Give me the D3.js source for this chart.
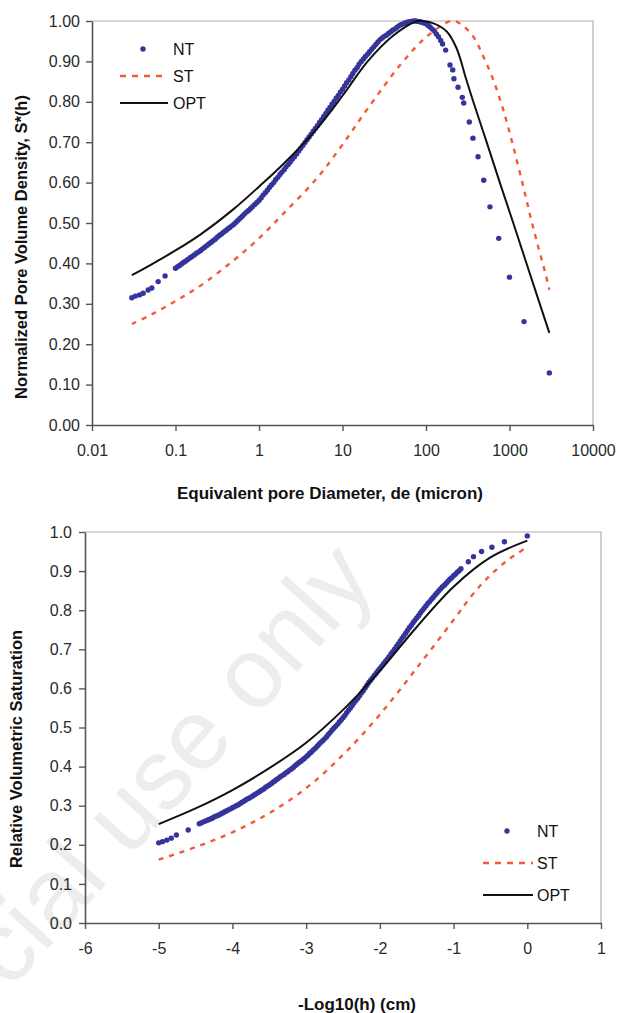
<!DOCTYPE html>
<html>
<head>
<meta charset="utf-8">
<script src="https://cdn.jsdelivr.net/npm/d3@7"></script>
<style>
  body { margin: 0; background: #fff; }
  svg { display: block; font-family: 'Liberation Sans', Arial, sans-serif; }
</style>
</head>
<body>
<div id="mount"></div>
<script>
'use strict';

const seriesNames = ['NT', 'ST', 'OPT'];

// upper chart: equivalent pore diameter (micron) -> normalized pore volume density
const poreTicksX = [0.01, 0.1, 1, 10, 100, 1000, 10000];
const poreTicksY = [0, 0.1, 0.2, 0.3, 0.4, 0.5, 0.6, 0.7, 0.8, 0.9, 1.0];

const poreNT = [
  [0.030,.315],[0.033,.319],[0.037,.322],[0.041,.326],[0.047,.334],[0.052,.339],[0.062,.355],[0.075,.369],
  [0.100,.388],[0.106,.392],[0.112,.395],[0.119,.399],[0.126,.403],[0.133,.406],[0.141,.410],[0.150,.414],
  [0.158,.417],[0.168,.421],[0.178,.425],[0.188,.428],[0.200,.432],[0.211,.436],[0.224,.440],[0.237,.444],
  [0.251,.448],[0.266,.452],[0.282,.456],[0.299,.460],[0.316,.465],[0.335,.469],[0.355,.473],[0.376,.477],
  [0.398,.481],[0.422,.485],[0.447,.489],[0.473,.493],[0.501,.497],[0.531,.502],[0.562,.507],[0.596,.512],
  [0.631,.517],[0.668,.522],[0.708,.527],[0.750,.531],[0.794,.536],[0.841,.541],[0.891,.546],[0.944,.551],
  [1.00,.556],[1.06,.562],[1.12,.569],[1.19,.575],[1.26,.581],[1.33,.588],[1.41,.594],[1.50,.600],
  [1.58,.607],[1.68,.613],[1.78,.620],[1.88,.626],[2.00,.632],[2.11,.639],[2.24,.645],[2.37,.651],
  [2.51,.658],[2.66,.664],[2.82,.671],[2.99,.678],[3.16,.685],[3.35,.692],[3.55,.699],[3.76,.706],
  [3.98,.713],[4.22,.720],[4.47,.727],[4.73,.734],[5.01,.741],[5.31,.749],[5.62,.756],[5.96,.764],
  [6.31,.771],[6.68,.779],[7.08,.786],[7.50,.794],[7.94,.801],[8.41,.809],[8.91,.816],[9.44,.824],
  [10.0,.831],[10.6,.839],[11.2,.847],[11.9,.854],[12.6,.862],[13.3,.870],[14.1,.878],[15.0,.885],
  [15.8,.893],[16.8,.900],[17.8,.906],[18.8,.912],[20.0,.918],[21.1,.924],[22.4,.930],[23.7,.936],
  [25.1,.942],[26.6,.948],[28.2,.954],[29.9,.958],[31.6,.962],[33.5,.965],[35.5,.969],[37.6,.973],
  [39.8,.977],[42.2,.980],[44.7,.984],[47.3,.988],[50.1,.991],[53.1,.993],[56.2,.995],[59.6,.997],
  [63.1,.998],[66.8,.999],[70.8,1.000],[75.0,1.000],[79.4,.999],[84.1,.998],[89.1,.997],[94.4,.995],
  [100,.993],[106,.989],[112,.985],[119,.980],[126,.975],[133,.968],[141,.961],[150,.952],[158,.943],
  [172,.928],[194,.891],[209,.879],[216,.857],[242,.836],[272,.811],[283,.797],[330,.750],
  [365,.710],[420,.664],[491,.606],[584,.540],[743,.462],[1000,.366],[1493,.256],[3000,.129]
];

const poreST = [
  [0.03,.250],[0.05,.272],[0.1,.307],[0.2,.345],[0.5,.408],[1,.462],[2,.525],[5,.612],
  [10,.694],[20,.783],[50,.893],[100,.960],[200,1.000],[255,.994],[369,.961],[486,.912],
  [640,.854],[843,.780],[1110,.689],[1463,.590],[1762,.520],[2118,.455],[2663,.379],[3000,.335]
];

const poreOPT = [
  [0.03,.371],[0.05,.396],[0.1,.432],[0.2,.472],[0.5,.535],[1,.590],[2,.648],[5,.735],
  [10,.815],[20,.900],[40,.963],[80,1.000],[123,.994],[177,.974],[233,.932],[300,.859],
  [366,.802],[529,.702],[766,.600],[1110,.500],[1592,.401],[3000,.228]
];

// lower chart: -log10(h) (cm) -> relative volumetric saturation
const satTicksX = [-6, -5, -4, -3, -2, -1, 0, 1];
const satTicksY = [0, 0.1, 0.2, 0.3, 0.4, 0.5, 0.6, 0.7, 0.8, 0.9, 1.0];

const satNT = [
  [-5.00,.205],[-4.95,.208],[-4.89,.212],[-4.83,.217],[-4.76,.225],[-4.60,.238],
  [-4.450,.254],[-4.425,.256],[-4.400,.258],[-4.375,.260],[-4.350,.262],[-4.325,.264],[-4.300,.266],[-4.275,.268],
  [-4.250,.271],[-4.225,.273],[-4.200,.275],[-4.175,.277],[-4.150,.280],[-4.125,.282],[-4.100,.285],[-4.075,.287],
  [-4.050,.290],[-4.025,.292],[-4.000,.295],[-3.975,.297],[-3.950,.300],[-3.925,.302],[-3.900,.305],[-3.875,.308],
  [-3.850,.311],[-3.825,.314],[-3.800,.317],[-3.775,.319],[-3.750,.322],[-3.725,.325],[-3.700,.328],[-3.675,.331],
  [-3.650,.334],[-3.625,.337],[-3.600,.340],[-3.575,.343],[-3.550,.347],[-3.525,.350],[-3.500,.353],[-3.475,.356],
  [-3.450,.360],[-3.425,.363],[-3.400,.367],[-3.375,.370],[-3.350,.374],[-3.325,.377],[-3.300,.380],[-3.275,.384],
  [-3.250,.387],[-3.225,.391],[-3.200,.394],[-3.175,.398],[-3.150,.402],[-3.125,.406],[-3.100,.410],[-3.075,.413],
  [-3.050,.417],[-3.025,.421],[-3.000,.425],[-2.975,.429],[-2.950,.434],[-2.925,.438],[-2.900,.443],[-2.875,.447],
  [-2.850,.452],[-2.825,.457],[-2.800,.462],[-2.775,.466],[-2.750,.471],[-2.725,.476],[-2.700,.482],[-2.675,.487],
  [-2.650,.493],[-2.625,.498],[-2.600,.503],[-2.575,.508],[-2.550,.514],[-2.525,.519],[-2.500,.525],[-2.475,.531],
  [-2.450,.538],[-2.425,.544],[-2.400,.550],[-2.375,.556],[-2.350,.563],[-2.325,.569],[-2.300,.575],[-2.275,.581],
  [-2.250,.588],[-2.225,.594],[-2.200,.601],[-2.175,.608],[-2.150,.615],[-2.125,.621],[-2.100,.627],[-2.075,.633],
  [-2.050,.639],[-2.025,.645],[-2.000,.651],[-1.975,.657],[-1.950,.663],[-1.925,.669],[-1.900,.675],[-1.875,.681],
  [-1.850,.688],[-1.825,.694],[-1.800,.700],[-1.775,.707],[-1.750,.714],[-1.725,.721],[-1.700,.728],[-1.675,.734],
  [-1.650,.741],[-1.625,.748],[-1.600,.755],[-1.575,.761],[-1.550,.768],[-1.525,.774],[-1.500,.780],[-1.475,.786],
  [-1.450,.793],[-1.425,.799],[-1.400,.805],[-1.375,.811],[-1.350,.817],[-1.325,.822],[-1.300,.828],[-1.275,.833],
  [-1.250,.839],[-1.225,.844],[-1.200,.850],[-1.175,.855],[-1.150,.860],[-1.125,.864],[-1.100,.869],[-1.075,.874],
  [-1.050,.879],[-1.025,.883],[-1.000,.888],[-0.975,.892],[-0.950,.897],[-0.925,.901],[-0.900,.906],
  [-0.80,.924],[-0.73,.937],[-0.62,.950],[-0.48,.961],[-0.31,.975],[0.00,.990]
];

const satST = [
  [-5.0,.162],[-4.5,.194],[-4.0,.232],[-3.5,.281],[-3.0,.345],[-2.5,.430],[-2.0,.533],
  [-1.5,.652],[-1.0,.775],[-0.75,.838],[-0.5,.890],[-0.25,.930],[0.0,.962]
];

const satOPT = [
  [-5.0,.253],[-4.5,.293],[-4.0,.340],[-3.5,.396],[-3.0,.461],[-2.5,.545],
  [-2.0,.645],[-1.5,.757],[-1.0,.860],[-0.5,.935],[0.0,.978]
];

const colors = { NT: '#34349a', ST: '#f25a38', OPT: '#111111' };

const svg = d3.select('#mount').append('svg')
    .attr('width', 618)
    .attr('height', 1013);

// faint diagonal watermark behind everything
svg.append('text')
    .attr('transform', 'translate(378,582) rotate(-48)')
    .attr('text-anchor', 'end')
    .style('font-size', '100px')
    .style('fill', '#ededed')
    .text('cial use only');

function drawPanel(p) {
  const x = p.x, y = p.y;
  const [left, right] = x.range();
  const [bottom, top] = y.range();

  // light frame on top and right, like the Excel plot area
  svg.append('path')
      .attr('d', `M${left},${top}H${right}V${bottom}`)
      .attr('fill', 'none')
      .attr('stroke', '#b5aba8')
      .attr('stroke-width', 1.2);

  const gx = svg.append('g')
      .attr('transform', `translate(0,${bottom})`)
      .call(d3.axisBottom(x).tickValues(p.ticksX).tickFormat(p.fmtX)
        .tickSize(6).tickSizeOuter(0).tickPadding(14));

  const gy = svg.append('g')
      .attr('transform', `translate(${left},0)`)
      .call(d3.axisLeft(y).tickValues(p.ticksY).tickFormat(p.fmtY)
        .tickSize(6).tickSizeOuter(0).tickPadding(p.padY));

  [gx, gy].forEach(g => {
    g.attr('font-family', null).attr('font-size', 16);
    g.select('.domain').attr('stroke', '#555').attr('stroke-width', 1.6);
    g.selectAll('.tick line').attr('stroke', '#555').attr('stroke-width', 1.4);
    g.selectAll('.tick text').attr('fill', '#2a2a2a');
  });

  const line = d3.line()
      .x(d => x(d[0]))
      .y(d => y(d[1]))
      .curve(d3.curveCatmullRom);

  svg.append('g').selectAll('circle')
      .data(p.nt)
    .join('circle')
      .attr('cx', d => x(d[0]))
      .attr('cy', d => y(d[1]))
      .attr('r', 2.7)
      .attr('fill', colors.NT);

  svg.append('path')
      .datum(p.st)
      .attr('d', line)
      .attr('fill', 'none')
      .attr('stroke', colors.ST)
      .attr('stroke-width', 2.4)
      .attr('stroke-dasharray', '5,6');

  svg.append('path')
      .datum(p.opt)
      .attr('d', line)
      .attr('fill', 'none')
      .attr('stroke', colors.OPT)
      .attr('stroke-width', 2);

  // axis titles
  svg.append('text')
      .attr('x', p.xTitle[0])
      .attr('y', p.xTitle[1])
      .attr('text-anchor', 'middle')
      .style('font-size', '17px')
      .style('font-weight', 'bold')
      .style('fill', '#111')
      .text(p.xLabel);

  svg.append('text')
      .attr('transform', `translate(${p.yTitle[0]},${p.yTitle[1]}) rotate(-90)`)
      .attr('text-anchor', 'middle')
      .style('font-size', '16.5px')
      .style('font-weight', 'bold')
      .style('fill', '#111')
      .text(p.yLabel);

  // legend
  const lg = p.legend;
  const items = svg.append('g').selectAll('g')
      .data(seriesNames)
    .join('g')
      .attr('transform', (d, i) => `translate(0,${lg.y0 + i * lg.step})`);

  items.filter(d => d === 'NT').append('circle')
      .attr('cx', lg.dotX)
      .attr('r', 2.7)
      .attr('fill', colors.NT);

  items.filter(d => d !== 'NT').append('line')
      .attr('x1', lg.lineX0)
      .attr('x2', lg.lineX1)
      .attr('stroke', d => colors[d])
      .attr('stroke-width', d => d === 'ST' ? 2.4 : 2)
      .attr('stroke-dasharray', d => d === 'ST' ? '6,6' : null);

  items.append('text')
      .attr('x', lg.textX)
      .attr('dy', '0.36em')
      .style('font-size', '16px')
      .style('fill', '#111')
      .text(d => d);
}

drawPanel({
  x: d3.scaleLog().domain([0.01, 10000]).range([92, 593]),
  y: d3.scaleLinear().domain([0, 1]).range([425, 21]),
  ticksX: poreTicksX,
  ticksY: poreTicksY,
  fmtX: d => String(d),
  fmtY: d3.format('.2f'),
  padY: 6,
  nt: poreNT, st: poreST, opt: poreOPT,
  xLabel: 'Equivalent pore Diameter, de (micron)',
  yLabel: 'Normalized Pore Volume Density, S*(h)',
  xTitle: [330, 499],
  yTitle: [27, 247],
  legend: { dotX: 143, lineX0: 120, lineX1: 168, textX: 173, y0: 49, step: 27 }
});

drawPanel({
  x: d3.scaleLinear().domain([-6, 1]).range([85, 601]),
  y: d3.scaleLinear().domain([0, 1]).range([923, 532]),
  ticksX: satTicksX,
  ticksY: satTicksY,
  fmtX: d => String(d),
  fmtY: d3.format('.1f'),
  padY: 7,
  nt: satNT, st: satST, opt: satOPT,
  xLabel: '-Log10(h) (cm)',
  yLabel: 'Relative Volumetric Saturation',
  xTitle: [357, 1010],
  yTitle: [22, 749],
  legend: { dotX: 507, lineX0: 483, lineX1: 533, textX: 537, y0: 831, step: 32 }
});
</script>
</body>
</html>
